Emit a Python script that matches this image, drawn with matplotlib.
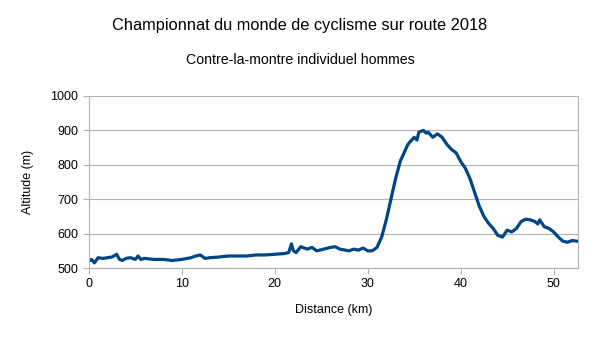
import matplotlib
matplotlib.use("Agg")
from matplotlib import pyplot as plt

plt.rcParams["font.family"] = ["Liberation Sans", "DejaVu Sans"]

title = "Championnat du monde de cyclisme sur route 2018"
subtitle = "Contre-la-montre individuel hommes"

distance_km = [
    0.0, 0.3, 0.6, 1.0, 1.5, 2.0, 2.5, 3.0, 3.3, 3.6, 4.0, 4.5, 5.0, 5.3, 5.6,
    6.0, 7.0, 8.0, 9.0, 10.0, 11.0, 11.5, 12.0, 12.5, 13.0, 14.0, 15.0, 16.0,
    17.0, 18.0, 19.0, 20.0, 21.0, 21.5, 21.8, 22.0, 22.3, 22.8, 23.5, 24.0,
    24.5, 25.0, 26.0, 26.5, 27.0, 28.0, 28.5, 29.0, 29.5, 30.0, 30.5, 31.0,
    31.5, 32.0, 32.5, 33.0, 33.5, 34.0, 34.3, 34.5, 35.0, 35.3, 35.5, 36.0,
    36.3, 36.5, 37.0, 37.5, 38.0, 38.5, 39.0, 39.5, 40.0, 40.5, 41.0, 41.5,
    42.0, 42.5, 43.0, 43.5, 44.0, 44.5, 45.0, 45.5, 46.0, 46.5, 47.0, 47.5,
    48.0, 48.3, 48.5, 49.0, 49.5, 50.0, 50.5, 51.0, 51.5, 52.0, 52.5,
]
altitude_m = [
    520, 525, 515, 530, 528, 530, 532, 540, 525, 522, 528, 530, 525, 535, 525,
    528, 525, 525, 522, 525, 530, 535, 538, 528, 530, 532, 535, 535,
    535, 538, 538, 540, 542, 545, 570, 550, 545, 562, 555, 560,
    550, 553, 560, 562, 555, 550, 555, 552, 558, 550, 550, 560,
    590, 640, 700, 760, 810, 840, 858, 865, 880, 872, 895, 900,
    892, 895, 880, 890, 880, 860, 845, 835, 810, 790, 760, 720,
    680, 650, 630, 615, 595, 590, 610, 605, 615, 635, 642, 640,
    635, 628, 640, 620, 615, 605, 590, 578, 575, 580, 578,
]

fig = plt.figure(figsize=(6.0, 3.38), dpi=100)
ax = fig.add_axes([0.148, 0.207, 0.815, 0.509])
ax.plot(distance_km, altitude_m, color="#004586", linewidth=2.3)

ax.set_xlim(0, 52.6)
ax.set_ylim(500, 1000)
ax.set_xticks([0, 10, 20, 30, 40, 50])
ax.set_yticks(range(500, 1001, 100))
ax.yaxis.grid(True, color="#b3b3b3", linewidth=0.8)
ax.set_axisbelow(True)
for side in ["left", "bottom", "right"]:
    ax.spines[side].set_color("#b3b3b3")
ax.spines["top"].set_visible(False)
ax.tick_params(axis="both", colors="#b3b3b3", labelcolor="black", labelsize=9, length=4)
ax.set_xlabel("Distance (km)", fontsize=9, labelpad=10)
ax.set_ylabel("Altitude (m)", fontsize=9, labelpad=12)

fig.text(0.5, 0.926, title, ha="center", va="center", fontsize=11.8)
fig.text(0.5, 0.822, subtitle, ha="center", va="center", fontsize=10.2)

fig.savefig("out.png", dpi=100)
